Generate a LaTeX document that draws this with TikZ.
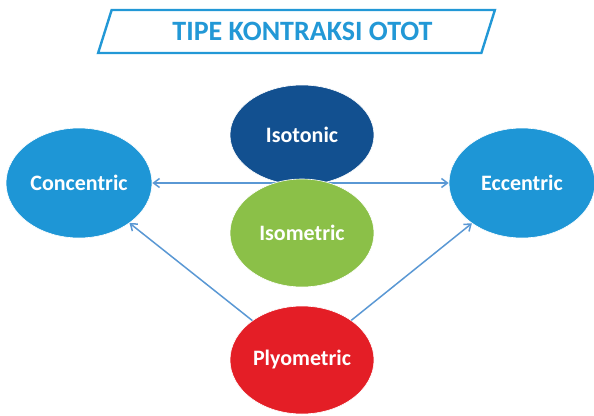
\documentclass[tikz,border=0pt]{standalone}
\usepackage{fontspec}
\setmainfont{Carlito}
\usetikzlibrary{positioning,shapes.geometric,arrows.meta}
\definecolor{titleblue}{RGB}{34,152,214}
\definecolor{sideblue}{RGB}{30,150,214}
\definecolor{darkblue}{RGB}{18,80,144}
\definecolor{leafgreen}{RGB}{139,192,72}
\definecolor{brightred}{RGB}{228,30,38}
\definecolor{linkblue}{RGB}{90,152,212}

\begin{document}
\begin{tikzpicture}
  [x=1pt,y=-1pt,
   type/.style={ellipse,draw=white,line width=0.6pt,inner sep=0pt,text=white,
     font=\bfseries\fontsize{22}{26}\selectfont},
   side/.style={type,fill=sideblue,minimum width=146pt,minimum height=110pt},
   mid/.style={type,minimum width=144pt,minimum height=108pt},
   link/.style={draw=linkblue,line width=1.5pt,-{Straight Barb[length=6pt,width=9pt]}},
   banner/.style={trapezium,trapezium left angle=68,trapezium right angle=112,
     trapezium stretches=true,draw=titleblue,line width=2.4pt,text=titleblue,
     minimum width=397pt,minimum height=43pt,font=\bfseries\fontsize{28}{32}\selectfont}]
  \useasboundingbox (0,0) rectangle (594,415);
  \node[banner] (title) at (296.5,31.5) {\hspace*{12pt}TIPE KONTRAKSI OTOT};
  \node[side] (concentric) at (79,183) {Concentric};
  \node[side] (eccentric) at (522,183) {Eccentric};
  \draw[link,{Straight Barb[length=6pt,width=9pt]}-{Straight Barb[length=6pt,width=9pt]}]
    (concentric) -- (eccentric);
  \node[mid,fill=darkblue,minimum height=100pt] (isotonic) at (302,135) {Isotonic};
  \node[mid,fill=leafgreen] (isometric) at (302,233) {Isometric};
  \node[mid,fill=brightred] (plyometric) at (302,360) {Plyometric};
  \draw[link] (plyometric) -- (concentric);
  \draw[link] (plyometric) -- (eccentric);

\end{tikzpicture}
\end{document}
